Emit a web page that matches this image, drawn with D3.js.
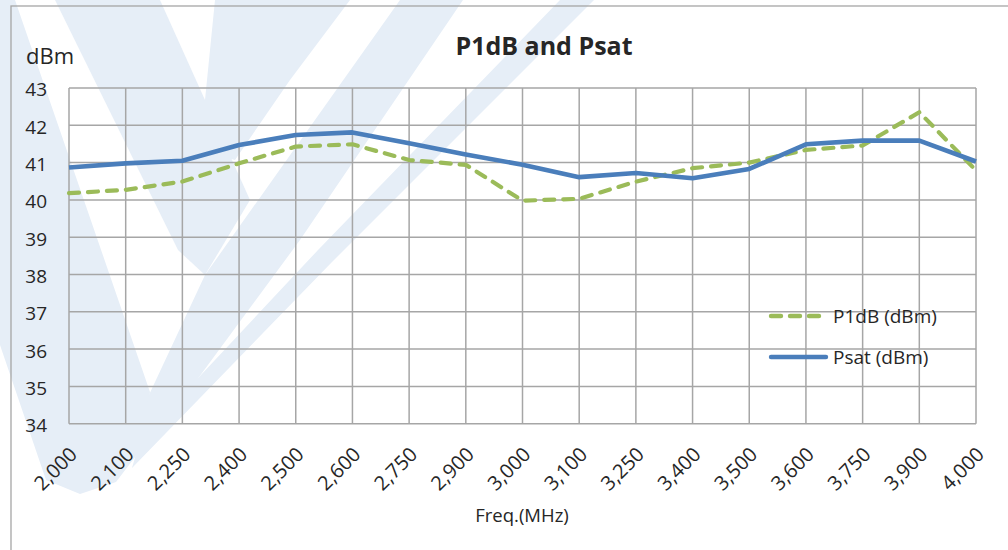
<!DOCTYPE html>
<html>
<head>
<meta charset="utf-8">
<script src="https://cdn.jsdelivr.net/npm/d3@7"></script>
<style>
  html, body { margin: 0; padding: 0; background: #fff; }
  svg { display: block; }
  text { font-family: "Open Sans", "Noto Sans", sans-serif; fill: #262626; }
</style>
</head>
<body>
<svg id="chart" width="1008" height="550"></svg>
<script>
const categories = ["2,000","2,100","2,250","2,400","2,500","2,600","2,750","2,900","3,000","3,100","3,250","3,400","3,500","3,600","3,750","3,900","4,000"];
const p1dB = [40.18, 40.27, 40.49, 40.98, 41.43, 41.49, 41.07, 40.94, 39.98, 40.03, 40.49, 40.85, 41.00, 41.34, 41.46, 42.35, 40.79];
const psat = [40.87, 40.98, 41.05, 41.47, 41.74, 41.81, 41.52, 41.22, 40.94, 40.61, 40.72, 40.58, 40.83, 41.49, 41.59, 41.59, 41.03];
const yTicks = [34, 35, 36, 37, 38, 39, 40, 41, 42, 43];
const seriesNames = ["P1dB (dBm)", "Psat (dBm)"];
const titleText = "P1dB and Psat";
const yUnit = "dBm";
const xTitle = "Freq.(MHz)";

const svg = d3.select("#chart");
const plot = { left: 69, right: 976, top: 88, bottom: 423.7 };

// watermark (light blue logo-like shapes behind the chart)
const wmShapes = [
  [[-160,0],[15,0],[150,392],[142,448],[116,482],[80,494],[46,480],[0,345],[-160,300]],
  [[55,0],[160,0],[250,200],[205,275],[178,250]],
  [[215,0],[350,0],[290,80],[235,160],[200,150]],
  [[140,452],[148,397],[205,275],[400,0],[463,0],[300,240],[132,468]],
  [[560,0],[594,0],[332,262],[132,468],[140,440],[318,250]]
];
const wmLine = d3.line().curve(d3.curveLinearClosed);
svg.append("g").selectAll("path").data(wmShapes).join("path")
  .attr("d", d => wmLine(d)).attr("fill", "#e6eef7");

// outer chart border
svg.append("rect").attr("x", 11).attr("y", 6).attr("width", 1100).attr("height", 600)
  .attr("fill", "none").attr("stroke", "#a6a6a6").attr("stroke-width", 1.3);

const x = d3.scalePoint().domain(categories).range([plot.left, plot.right]).padding(0);
const y = d3.scaleLinear().domain([34, 43]).range([plot.bottom, plot.top]);

// gridlines
const grid = svg.append("g").attr("stroke", "#a6a6a6").attr("stroke-width", 1.5);
grid.selectAll("line.h").data(yTicks).join("line").attr("class", "h")
  .attr("x1", plot.left).attr("x2", plot.right)
  .attr("y1", d => y(d)).attr("y2", d => y(d));
grid.selectAll("line.v").data(categories).join("line").attr("class", "v")
  .attr("x1", d => x(d)).attr("x2", d => x(d))
  .attr("y1", plot.top).attr("y2", plot.bottom);

// y axis labels
const yAxis = d3.axisLeft(y).tickValues(yTicks).tickSize(0).tickPadding(22);
const gy = svg.append("g").attr("transform", `translate(${plot.left},0)`).call(yAxis);
gy.select(".domain").remove();
gy.selectAll("text").style("font-size", "19px").attr("fill", "#262626")
  .style("font-family", "'Open Sans', sans-serif").attr("dy", "0.42em");

// x axis labels
const xAxis = d3.axisBottom(x).tickSize(0);
const gx = svg.append("g").attr("transform", `translate(0,${plot.bottom})`).call(xAxis);
gx.select(".domain").remove();
gx.selectAll("text").style("font-size", "20px").attr("fill", "#262626")
  .style("font-family", "'Open Sans', sans-serif")
  .attr("text-anchor", "end").attr("y", 0).attr("dy", "0.35em")
  .attr("transform", "translate(4,27) rotate(-45)");

// lines
const line = d3.line().x((d, i) => x(categories[i])).y(d => y(d));
svg.append("path").datum(p1dB).attr("d", line).attr("fill", "none")
  .attr("stroke", "#9bbb59").attr("stroke-width", 4.2)
  .attr("stroke-dasharray", "10,9").attr("stroke-linecap", "round").attr("stroke-linejoin", "round");
svg.append("path").datum(psat).attr("d", line).attr("fill", "none")
  .attr("stroke", "#4a7ebb").attr("stroke-width", 4.6).attr("stroke-linejoin", "round");

// legend
const leg = svg.append("g");
const legItems = [
  { name: seriesNames[0], color: "#9bbb59", dash: "10,9", x2: 819, y: 316 },
  { name: seriesNames[1], color: "#4a7ebb", dash: null, x2: 826, y: 357 }
];
legItems.forEach(it => {
  leg.append("line").attr("x1", 771).attr("x2", it.x2).attr("y1", it.y).attr("y2", it.y)
    .attr("stroke", it.color).attr("stroke-width", 4.4)
    .attr("stroke-dasharray", it.dash).attr("stroke-linecap", "round");
  leg.append("text").attr("x", 833).attr("y", it.y + 7).style("font-size", "19px").text(it.name);
});

// titles
svg.append("text").attr("x", 544).attr("y", 55).attr("text-anchor", "middle")
  .style("font-size", "25px").style("font-weight", "bold").text(titleText);
svg.append("text").attr("x", 26).attr("y", 64).style("font-size", "22px").text(yUnit);
svg.append("text").attr("x", 522).attr("y", 522).attr("text-anchor", "middle")
  .style("font-size", "18.5px").text(xTitle);
</script>
</body>
</html>
